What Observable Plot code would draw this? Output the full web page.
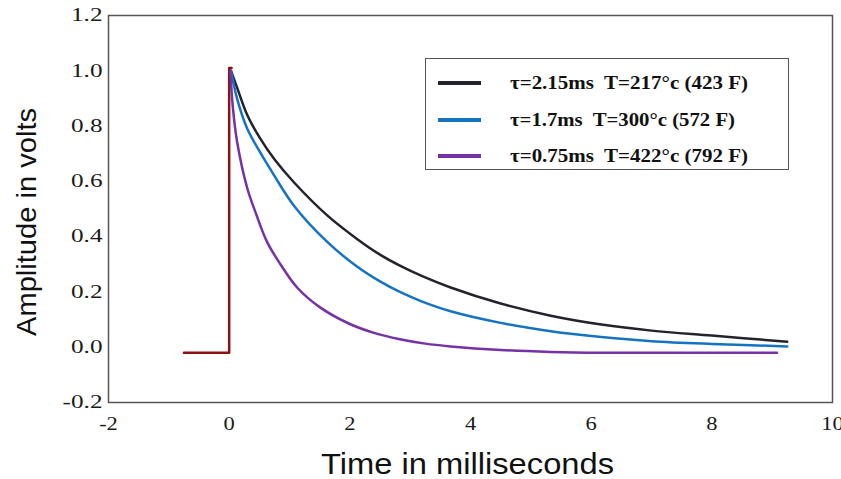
<!DOCTYPE html>
<html>
<head>
<meta charset="utf-8">
<script src="https://cdn.jsdelivr.net/npm/d3@7"></script>
<script src="https://cdn.jsdelivr.net/npm/@observablehq/plot@0.6"></script>
<style>
  html, body { margin: 0; padding: 0; background: #fff; }
  #wrap { position: relative; width: 841px; height: 479px; }
  #legend { position: absolute; left: 425px; top: 58px; width: 364px; height: 112px;
    border: 1.5px solid #555; background: #fff; box-sizing: border-box; }
  .sw { position: absolute; left: 12px; width: 43px; height: 4px; }
  .lbl { position: absolute; left: 84px; white-space: pre; transform-origin: 0 50%;
    font-family: "Liberation Serif", "DejaVu Serif", serif; font-weight: bold; font-size: 19px; line-height: 20px; color: #111; }
</style>
</head>
<body>
<div id="wrap"></div>
<script>
// Time axis (ms) and amplitude (V) readings for each curve
const blackT = [0.03, 0.13, 0.3, 0.5, 0.75, 1.08, 1.63, 2.13, 2.5, 2.83, 3.2, 3.67, 4.5, 5.33, 6.17, 7, 8, 9.25];
const blackV = [1.0, 0.94, 0.84, 0.76, 0.68, 0.595, 0.476, 0.39, 0.335, 0.295, 0.257, 0.216, 0.158, 0.114, 0.082, 0.06, 0.042, 0.02];

const blueT = [0.03, 0.13, 0.3, 0.5, 0.75, 1.08, 1.63, 2.13, 2.5, 2.83, 3.2, 3.67, 4.5, 5.33, 6.17, 7, 8, 9.25];
const blueV = [1.0, 0.9, 0.79, 0.71, 0.62, 0.51, 0.38, 0.29, 0.238, 0.2, 0.165, 0.13, 0.088, 0.058, 0.037, 0.022, 0.012, 0.003];

const purpleT = [0.02, 0.06, 0.13, 0.3, 0.45, 0.63, 0.85, 1.13, 1.5, 2, 2.4, 2.83, 3.25, 3.67, 4.5, 5.33, 6.17, 7, 8, 9.08];
const purpleV = [1.0, 0.87, 0.745, 0.575, 0.48, 0.38, 0.3, 0.215, 0.145, 0.084, 0.052, 0.029, 0.013, 0.003, -0.01, -0.017, -0.02, -0.02, -0.02, -0.02];

const stepT = [-0.75, 0, 0, 0.04];
const stepV = [-0.02, -0.02, 1.01, 1.01];

const xTicks = [-2, 0, 2, 4, 6, 8, 10];
const yTicks = [-0.2, 0.0, 0.2, 0.4, 0.6, 0.8, 1.0, 1.2];

const seriesNames = ["τ=2.15ms  T=217°c (423 F)", "τ=1.7ms  T=300°c (572 F)", "τ=0.75ms  T=422°c (792 F)"];
const seriesColors = ["#23232e", "#1573c2", "#7432a6"];
const stepColor = "#8a1212";

const xTitle = ["Time in milliseconds"];
const yTitle = ["Amplitude in volts"];

const toRows = (T, V) => T.map((t, i) => ({t, v: V[i]}));
const curves = [toRows(blackT, blackV), toRows(blueT, blueV), toRows(purpleT, purpleV)];

const chart = Plot.plot({
  width: 841,
  height: 479,
  marginLeft: 108,
  marginRight: 9,
  marginTop: 15,
  marginBottom: 77,
  x: {domain: [-2, 10]},
  y: {domain: [-0.2, 1.2]},
  style: {fontFamily: "'Liberation Serif', 'Times New Roman', serif", background: "#fff", fontSize: "18px"},
  marks: [
    Plot.frame({stroke: "#555", strokeWidth: 1.5}),
    Plot.axisX({ticks: xTicks, tickSize: 0, tickPadding: 15, label: null, tickFormat: d => String(d), fill: "#1a1a1a"}),
    Plot.axisY({ticks: yTicks, tickSize: 0, tickPadding: 6, label: null, tickFormat: d => d.toFixed(1), fill: "#1a1a1a"}),
    Plot.line(toRows(stepT, stepV), {x: "t", y: "v", stroke: stepColor, strokeWidth: 2.5}),
    ...curves.map((rows, i) => Plot.line(rows, {x: "t", y: "v", stroke: seriesColors[i], strokeWidth: 2.5, curve: "catmull-rom"})),
    Plot.text(xTitle, {text: d => d, frameAnchor: "bottom", lineAnchor: "middle", textAnchor: "middle", dx: -3, dy: 62, fontSize: 29, fontFamily: "'Liberation Sans', Arial, sans-serif", fill: "#111"}),
    Plot.text(yTitle, {text: d => d, frameAnchor: "left", lineAnchor: "middle", textAnchor: "middle", dx: -81, dy: 13, rotate: -90, fontSize: 28, fontFamily: "'Liberation Sans', Arial, sans-serif", fill: "#111"})
  ]
});

const wrap = document.getElementById("wrap");
wrap.appendChild(chart);

const svg = d3.select(chart);
const texts = svg.selectAll("text");
const xTickSet = new Set(xTicks.map(String));
const yTickSet = new Set(yTicks.map(d => d.toFixed(1)));
// axis tick labels: wide serif digits as in the reference
texts.each(function() {
  const s = this.textContent;
  let f = 0;
  if (yTickSet.has(s)) f = 1.4;
  else if (xTickSet.has(s)) f = 1.25;
  if (!f) return;
  this.style.fontSize = "18px";
  this.style.fontFamily = "'Liberation Serif', 'Times New Roman', serif";
  const w = this.getComputedTextLength();
  if (w > 0) { this.setAttribute("textLength", w * f); this.setAttribute("lengthAdjust", "spacingAndGlyphs"); }
});
// stretch axis titles to the reference's text lengths
texts.filter(function() { return this.textContent === xTitle[0]; })
  .attr("textLength", 293).attr("lengthAdjust", "spacingAndGlyphs");
texts.filter(function() { return this.textContent === yTitle[0]; })
  .attr("textLength", 228).attr("lengthAdjust", "spacingAndGlyphs");

const legend = document.createElement("div");
legend.id = "legend";
wrap.appendChild(legend);
const rowTops = [14, 51, 87];
const rowWidths = [238, 225, 238];
seriesNames.forEach((name, i) => {
  const sw = document.createElement("div");
  sw.className = "sw";
  sw.style.top = (rowTops[i] + 8) + "px";
  sw.style.background = seriesColors[i];
  legend.appendChild(sw);
  const lbl = document.createElement("div");
  lbl.className = "lbl";
  lbl.style.top = rowTops[i] + "px";
  lbl.textContent = name;
  legend.appendChild(lbl);
  const w = lbl.getBoundingClientRect().width;
  if (w > 0) lbl.style.transform = `scaleX(${rowWidths[i] / w})`;
});
</script>
</body>
</html>
